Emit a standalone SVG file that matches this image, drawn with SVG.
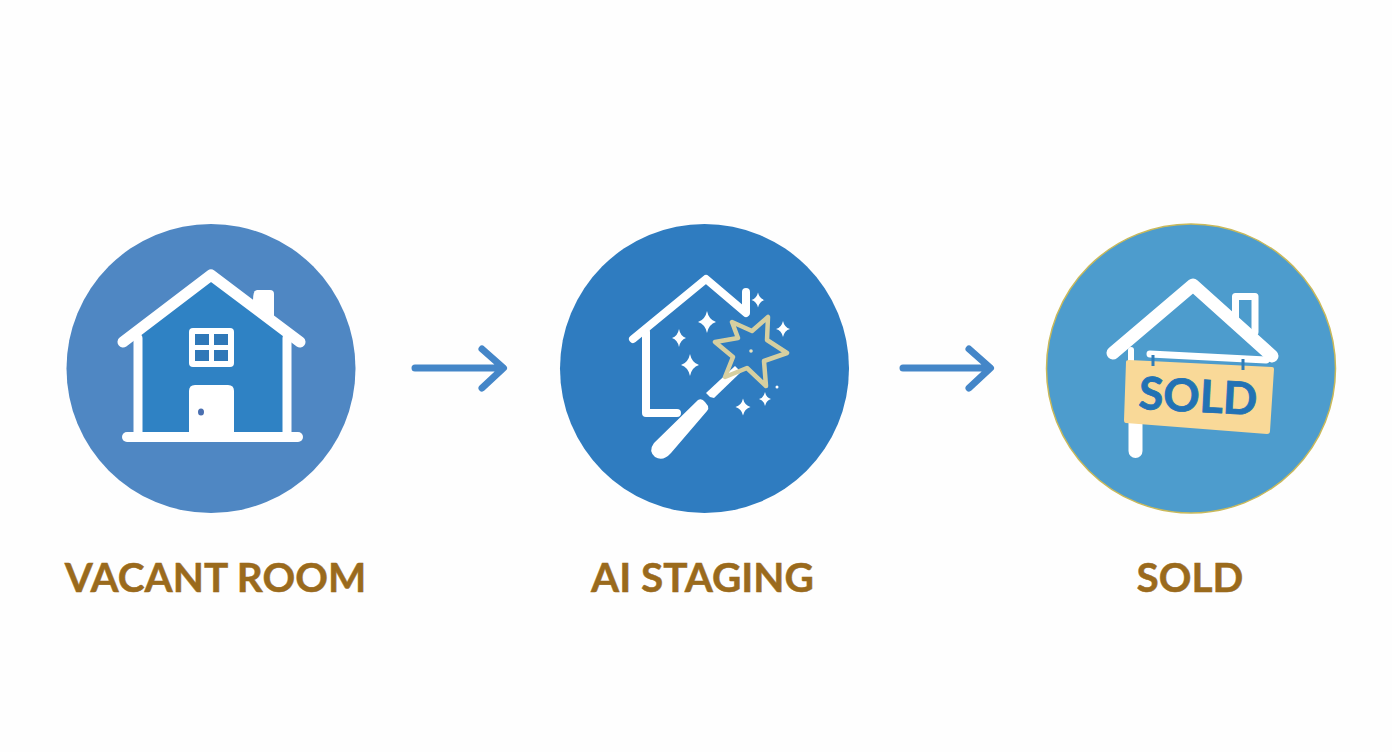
<svg xmlns="http://www.w3.org/2000/svg" width="1392" height="752" viewBox="0 0 1392 752">
<style>
.lbl{font-family:"Lato","Liberation Sans",sans-serif;font-weight:700;font-size:40.500px;fill:#9a6a1c;stroke:#9a6a1c;stroke-width:.5;text-anchor:middle}
.w{fill:none;stroke:#fff;stroke-linecap:round;stroke-linejoin:round}
.f{fill:#fff}
.arrow{fill:none;stroke:#4486c8;stroke-width:7;stroke-linecap:round;stroke-linejoin:round}
</style>
<defs>
<path id="sp" d="M0 -10 Q2 -2 10 0 Q2 2 0 10 Q-2 2 -10 0 Q-2 -2 0 -10Z"/>
</defs>
<rect width="1392" height="752" fill="#fefefe"/>
<g id="connectors">
<path class="arrow" d="M415 368H503M482 349L503.500 368L482 388"/>
<path class="arrow" d="M903 368H990M969 349L990.500 368L969 388"/>
</g>
<g id="node-vacant">
<circle cx="211" cy="368.500" r="144.500" fill="#4f87c3"/>
<path d="M138 336L211 279L287 336V437H138Z" fill="#2f82c4"/>
<path class="f" d="M253 300Q253 290 257 290H270Q274 290 274 294V322L253 306Z"/>
<path class="w" stroke-width="11" d="M123 342L211 275L300 342"/>
<path class="w" stroke-width="9" d="M138 338V437M287 338V437"/>
<path class="w" stroke-width="10" d="M127 437H298"/>
<rect x="189" y="328" width="45" height="39" rx="4" fill="#fff"/>
<g fill="#2f78b8"><rect x="195" y="334" width="14" height="11"/><rect x="214" y="334" width="14" height="11"/><rect x="195" y="350" width="14" height="11"/><rect x="214" y="350" width="14" height="11"/></g>
<path class="f" d="M189 437V391Q189 385 195 385H228Q234 385 234 391V437Z"/>
<ellipse cx="201" cy="412" rx="3" ry="3.500" fill="#4a6fb0"/>
<text class="lbl" x="215.500" y="592">VACANT ROOM</text>
</g>
<g id="node-staging">
<circle cx="704.500" cy="368.500" r="144.500" fill="#2f7cc0"/>
<path class="w" stroke-width="8" d="M633 339L706 279L746 313V292"/>
<path class="w" stroke-width="8" d="M646 332V413H677"/>
<path class="f" d="M698 400Q702 398 705 402L708 406Q709 409 707 411L671 453Q663 462 655 457Q648 451 654 443Z"/>
<path class="f" d="M706 393L735 366L741 372L714 398L710 397Z"/>
<path d="M732 322L752 331L768 317L767 340L787 353L764 361L766 386L747 368L725 377L733 357L715 342L738 338Z" fill="none" stroke="#d6cfa0" stroke-width="4.500" stroke-linejoin="round"/>
<circle cx="751" cy="351" r="1.800" fill="#e8e3c0"/>
<circle cx="777" cy="387" r="1.500" fill="#fff"/>
<g class="f">
<use href="#sp" transform="translate(707 322) scale(.9 1.1)"/>
<use href="#sp" transform="translate(679 338) scale(.7 .9)"/>
<use href="#sp" transform="translate(690 365) scale(.9 1.1)"/>
<use href="#sp" transform="translate(758 300) scale(.65 .75)"/>
<use href="#sp" transform="translate(783 329) scale(.7 .8)"/>
<use href="#sp" transform="translate(743 407) scale(.75 .85)"/>
<use href="#sp" transform="translate(765 399) scale(.6 .7)"/>
</g>
<text class="lbl" x="702.500" y="592">AI STAGING</text>
</g>
<g id="node-sold">
<circle cx="1191" cy="368.500" r="144.500" fill="#4d9ccd" stroke="#c9b95a" stroke-width="1.500"/>
<path class="w" stroke-width="7" d="M1235.500 322V296.500H1255V332"/>
<path class="w" stroke-width="13" d="M1113 353L1193 285L1272 356"/>
<path class="w" stroke-width="7" d="M1150 354L1266 360"/>
<path class="w" stroke-width="6" d="M1131 350V364"/>
<path class="w" stroke-width="14" d="M1135.500 420V451"/>
<path d="M1129 360L1272 367Q1274 367 1274 369L1270 431Q1270 434 1267 434L1126 423Q1124 423 1124 420L1126 362Q1126 360 1129 360Z" fill="#f9d998"/>
<path d="M1153 355V366M1243 359V370" stroke="#2f7cb8" stroke-width="3" fill="none"/>
<text x="1198" y="412" transform="rotate(3 1198 397)" text-anchor="middle" font-family="Lato,'Liberation Sans',sans-serif" font-weight="700" font-size="45" fill="#2272b4" stroke="#2272b4" stroke-width=".8">SOLD</text>
<text class="lbl" x="1190" y="592">SOLD</text>
</g>
</svg>
